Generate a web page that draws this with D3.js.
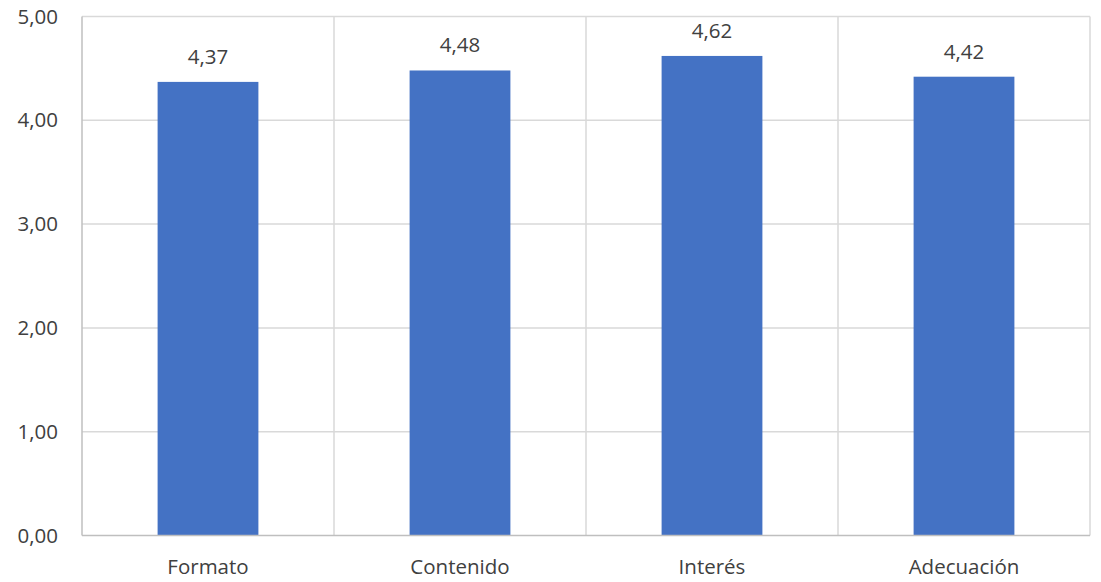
<!DOCTYPE html>
<html><head><meta charset="utf-8">
<script src="https://cdn.jsdelivr.net/npm/d3@7"></script>
<style>body{margin:0;background:#fff}svg{display:block}text{font-family:"Open Sans",sans-serif;fill:#404040}</style>
</head><body><svg id="c" width="1101" height="582"></svg>
<script>
const categories = ["Formato","Contenido","Interés","Adecuación"];
const values = [4.37,4.48,4.62,4.42];
const yTicks = [0,1,2,3,4,5];

const svg = d3.select("#c");
const m = {l:82, r:1090, t:16.5, b:535.5};
const x = d3.scaleBand().domain(categories).range([m.l,m.r]).paddingInner(0).paddingOuter(0);
const y = d3.scaleLinear().domain([0,5]).range([m.b,m.t]);
const fmt = v => d3.format(".2f")(v).replace(".",",");
const fs = 20.5;

// horizontal gridlines
svg.append("g").selectAll("line").data(yTicks.filter(d=>d>0)).join("line")
  .attr("x1",m.l).attr("x2",m.r).attr("y1",d=>y(d)).attr("y2",d=>y(d))
  .attr("stroke","#d9d9d9").attr("stroke-width",1.5);
// vertical gridlines at category boundaries
const bounds = categories.map(c=>x(c)).slice(1).concat([m.r]);
svg.append("g").selectAll("line").data(bounds).join("line")
  .attr("x1",d=>d).attr("x2",d=>d).attr("y1",m.t).attr("y2",m.b)
  .attr("stroke","#d9d9d9").attr("stroke-width",1.5);

// bars
const bw = x.bandwidth()*0.4;
svg.append("g").selectAll("rect").data(values).join("rect")
  .attr("x",(d,i)=>x(categories[i])+x.bandwidth()/2-bw/2)
  .attr("width",bw)
  .attr("y",d=>y(d)).attr("height",d=>y(0)-y(d))
  .attr("fill","#4472c4");

// axes lines
svg.append("line").attr("x1",m.l).attr("x2",m.l).attr("y1",m.t).attr("y2",m.b)
  .attr("stroke","#bfbfbf").attr("stroke-width",1.5);
svg.append("line").attr("x1",m.l).attr("x2",m.r).attr("y1",m.b).attr("y2",m.b)
  .attr("stroke","#bfbfbf").attr("stroke-width",1.5);

// y tick labels
svg.append("g").selectAll("text").data(yTicks).join("text")
  .attr("x",58).attr("y",d=>y(d)).attr("dy","0.35em").attr("text-anchor","end")
  .style("font-size",fs+"px").text(d=>fmt(d));

// x labels
svg.append("g").selectAll("text").data(categories).join("text")
  .attr("x",d=>x(d)+x.bandwidth()/2).attr("y",574).attr("text-anchor","middle")
  .style("font-size",fs+"px").text(d=>d);

// value labels
svg.append("g").selectAll("text").data(values).join("text")
  .attr("x",(d,i)=>x(categories[i])+x.bandwidth()/2).attr("y",d=>y(d)-18)
  .attr("text-anchor","middle").style("font-size",fs+"px").text(d=>fmt(d));
</script></body></html>
